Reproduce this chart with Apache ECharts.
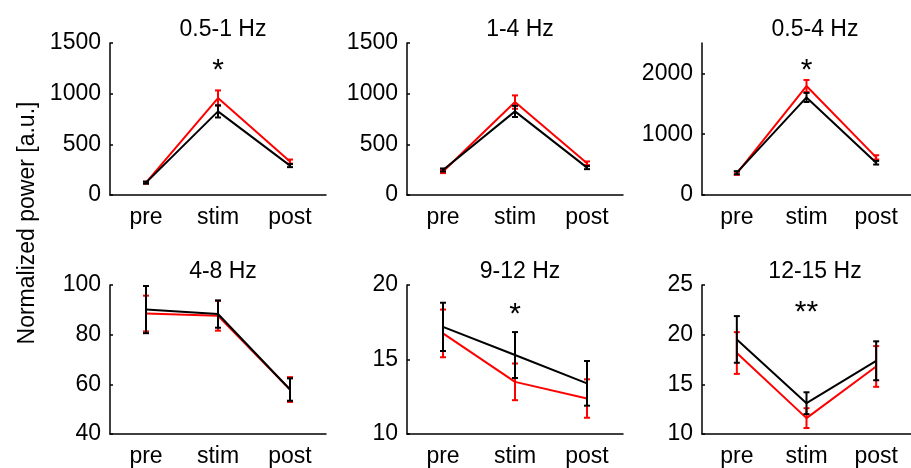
<!DOCTYPE html>
<html><head><meta charset="utf-8">
<script src="https://cdn.jsdelivr.net/npm/echarts@6/dist/echarts.min.js"></script>
<style>html,body{margin:0;padding:0;background:#fff}#c{width:911px;height:468px}</style>
</head><body><div id="c"></div><script>
const categories = ['pre', 'stim', 'post'];
const titles = ['0.5-1 Hz', '1-4 Hz', '0.5-4 Hz', '4-8 Hz', '9-12 Hz', '12-15 Hz'];
const redMean = [[122, 957, 330], [231, 917, 313], [356, 1792, 619], [88.5, 87.6, 57.9], [16.75, 13.5, 12.38], [18.15, 11.6, 16.8]];
const redErr = [[10, 75, 20], [15, 66, 18], [25, 100, 35], [7.2, 6, 5], [1.6, 1.23, 1.29], [2.1, 1.0, 2.05]];
const blackMean = [[122, 825, 290], [247, 825, 270], [367, 1605, 531], [90.1, 88.3, 57.9], [17.19, 15.3, 13.4], [19.52, 13.1, 17.37]];
const blackErr = [[10, 60, 15], [15, 55, 15], [25, 75, 30], [9.5, 5.5, 4.5], [1.62, 1.54, 1.5], [2.35, 1.1, 1.96]];
const yMin = [0, 0, 0, 40, 10, 10];
const yMax = [1500, 1500, 2500, 100, 20, 25];
const yTicks = [[0, 500, 1000, 1500], [0, 500, 1000, 1500], [0, 1000, 2000], [40, 60, 80, 100], [10, 15, 20], [10, 15, 20, 25]];
const sigMarks = ['*', '', '*', '', '*', '**'];
const sigY = [1230, null, 2040, null, 18.0, 22.2];
const yAxisTitle = 'Normalized power [a.u.]';

const FONT = '"Liberation Sans", Arial, sans-serif';
const FS = 23;
const colLeft = [110, 407, 702];
const rowTop = [43, 285];
const rowH = [152, 153];
const W = 216;

const chart = echarts.init(document.getElementById('c'), null, {renderer: 'canvas'});
const grids = [], xAxes = [], yAxes = [], series = [], title = [];

function errSeries(i, means, errs, color) {
  return {
    type: 'custom', xAxisIndex: i, yAxisIndex: i, silent: true, z: color === '#000' ? 4 : 3,
    data: means.map((m, k) => [k, m, errs[k]]),
    renderItem: function (params, api) {
      const x = api.value(0), m = api.value(1), e = api.value(2);
      const t = api.coord([x, m + e]);
      const b = api.coord([x, m - e]);
      const hw = 3;
      const st = {stroke: color, lineWidth: 2};
      return {type: 'group', children: [
        {type: 'line', shape: {x1: t[0], y1: t[1], x2: b[0], y2: b[1]}, style: st},
        {type: 'line', shape: {x1: t[0] - hw, y1: t[1], x2: t[0] + hw, y2: t[1]}, style: st},
        {type: 'line', shape: {x1: b[0] - hw, y1: b[1], x2: b[0] + hw, y2: b[1]}, style: st}
      ]};
    }
  };
}

for (let i = 0; i < 6; i++) {
  const r = Math.floor(i / 3), c = i % 3;
  grids.push({left: colLeft[c], top: rowTop[r], width: W, height: rowH[r], containLabel: false});
  title.push({
    text: titles[i], left: colLeft[c] + W / 2, top: rowTop[r] - 30, textAlign: 'center',
    textStyle: {fontFamily: FONT, fontSize: FS, fontWeight: 'normal', color: '#000'}
  });
  xAxes.push({
    type: 'category', gridIndex: i, data: categories, boundaryGap: true,
    axisLine: {lineStyle: {color: '#000', width: 1.5}},
    axisTick: {inside: true, length: 3, alignWithLabel: true, lineStyle: {color: '#000', width: 1.5}},
    axisLabel: {color: '#000', fontFamily: FONT, fontSize: FS, margin: 11}
  });
  yAxes.push({
    type: 'value', gridIndex: i, min: yMin[i], max: yMax[i],
    splitLine: {show: false},
    axisLine: {show: true, lineStyle: {color: '#000', width: 1.5}},
    axisTick: {show: true, inside: true, length: 3, customValues: yTicks[i], lineStyle: {color: '#000', width: 1.5}},
    axisLabel: {color: '#000', fontFamily: FONT, fontSize: FS, margin: 9, customValues: yTicks[i],
      formatter: v => String(v)}
  });
  series.push({
    type: 'line', xAxisIndex: i, yAxisIndex: i, data: redMean[i], symbol: 'none', z: 3,
    lineStyle: {color: '#ff0000', width: 2}, silent: true
  });
  series.push(errSeries(i, redMean[i], redErr[i], '#ff0000'));
  const blk = {
    type: 'line', xAxisIndex: i, yAxisIndex: i, data: blackMean[i], symbol: 'none', z: 4,
    lineStyle: {color: '#000', width: 2}, silent: true
  };
  if (sigMarks[i]) {
    blk.markPoint = {
      symbol: 'circle', symbolSize: 0, silent: true, animation: false,
      data: [{coord: [1, sigY[i]], value: sigMarks[i]}],
      label: {show: true, position: 'inside', formatter: sigMarks[i], color: '#000', fontFamily: FONT, fontSize: 30}
    };
  }
  series.push(blk);
  series.push(errSeries(i, blackMean[i], blackErr[i], '#000'));
}

chart.setOption({
  animation: false,
  backgroundColor: '#fff',
  title: title,
  grid: grids, xAxis: xAxes, yAxis: yAxes, series: series,
  graphic: [{
    type: 'text', x: 28, y: 223, rotation: Math.PI / 2,
    style: {text: yAxisTitle, fontFamily: FONT, fontSize: FS, fill: '#000', align: 'center', verticalAlign: 'middle'}
  }]
});
</script></body></html>
